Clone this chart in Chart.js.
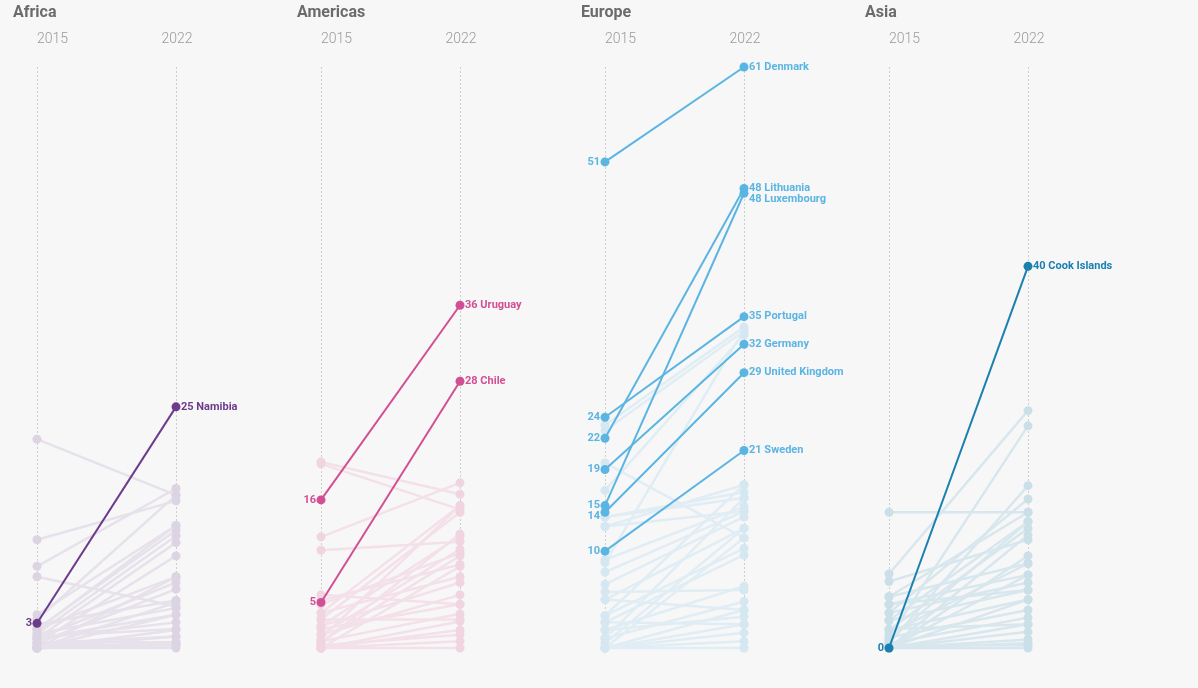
<!DOCTYPE html>
<html><head><meta charset="utf-8">
<script src="https://cdn.jsdelivr.net/npm/chart.js@4/dist/chart.umd.min.js"></script>
<style>
html,body{margin:0;padding:0;background:#f7f7f7;}
#wrap{position:relative;width:1198px;height:688px;overflow:hidden;background:#f7f7f7}
.panel{position:absolute;top:0;height:688px;}
canvas{display:block}
</style></head><body><div id="wrap"></div>
<script>
const years = ['2015', '2022'];
const regions = ['Africa', 'Americas', 'Europe', 'Asia'];

// Africa
const africaBg2015 = [22.0, 11.4, 8.6, 7.5, 3.5, 2.0, 1.5, 1.0, 0.5, 2.0, 1.0, 0.5, 0, 1.5, 0, 1.0, 0, 0.5, 0, 0, 0.3, 0, 1.2, 2.5, 0, 1.0, 0.6, 0, 3.0, 1.9];
const africaBg2022 = [16.1, 15.5, 16.8, 4.4, 12.9, 12.4, 11.8, 11.1, 9.7, 7.5, 6.9, 6.2, 4.8, 4.2, 3.5, 2.7, 1.9, 1.2, 0.6, 0, 0.3, 1.2, 2.0, 5.0, 7.5, 3.5, 0.6, 0.3, 16.1, 12.9];
const africaHiNames = ['Namibia'];
const africaHi2015 = [2.6];
const africaHi2022 = [25.4];

// Americas
const americasBg2015 = [19.6, 19.4, 11.7, 10.3, 5.6, 3.7, 3.0, 2.3, 1.4, 0.7, 0, 3.7, 2.3, 1.4, 0.7, 0, 0, 0.3, 0, 0, 5.0, 1.0, 3.0, 0.5, 2.0, 4.6];
const americasBg2022 = [16.2, 14.6, 17.4, 11.2, 4.6, 15.0, 14.3, 11.8, 10.4, 9.7, 8.6, 7.5, 6.9, 5.6, 3.6, 2.8, 1.9, 1.4, 0.7, 0, 8.8, 15.0, 3.0, 12.0, 4.6, 10.0];
const americasHiNames = ['Uruguay', 'Chile'];
const americasHi2015 = [15.6, 4.8];
const americasHi2022 = [36.1, 28.1];

// Europe
const europeBg2015 = [23.5, 22.9, 19.5, 16.6, 12.8, 13.8, 9.3, 8.0, 6.7, 5.9, 5.1, 3.4, 2.7, 1.9, 1.0, 0, 1.9, 2.7, 0, 0, 0, 1.0, 3.4, 0, 0.5, 9.0, 5.1, 12.8, 0, 13.8];
const europeBg2022 = [33.8, 33.4, 11.6, 33.0, 17.2, 15.8, 14.9, 14.4, 13.8, 6.1, 12.6, 10.5, 9.8, 6.5, 4.9, 4.0, 3.3, 2.5, 1.6, 0.7, 0, 15.8, 17.2, 11.6, 12.6, 33.5, 4.0, 14.4, 2.5, 16.4];
const europeHiNames = ['Denmark', 'Lithuania', 'Luxembourg', 'Portugal', 'Germany', 'United Kingdom', 'Sweden'];
const europeHi2015 = [51.2, 22.1, 15.0, 24.3, 18.8, 14.3, 10.2];
const europeHi2022 = [61.2, 48.4, 47.9, 34.9, 32.0, 29.0, 20.8];

// Asia
const asiaBg2015 = [14.3, 7.8, 7.0, 5.4, 4.6, 3.7, 2.9, 1.9, 1.1, 0.5, 0, 0, 3.7, 2.9, 1.9, 1.1, 0.5, 0, 0, 0, 0, 0.3, 5.4, 0, 1.5, 0, 2.0, 4.6, 0.8, 0];
const asiaBg2022 = [14.3, 25.0, 11.4, 8.9, 7.7, 15.7, 13.3, 12.6, 23.4, 17.1, 11.9, 9.7, 6.9, 6.1, 5.1, 4.0, 3.2, 2.5, 1.7, 0.9, 0, 0.3, 14.3, 7.7, 8.9, 5.1, 2.5, 6.1, 13.3, 0.5];
const asiaHiNames = ['Cook Islands'];
const asiaHi2015 = [0];
const asiaHi2022 = [40.2];

const palette = [
  {hi: '#6c3b8b', line: '#e6e1ea', point: '#dcd4e2'},
  {hi: '#d24f93', line: '#f4e0e9', point: '#f0d5e1'},
  {hi: '#5bb5e2', line: '#e0edf4', point: '#d5e7f0'},
  {hi: '#1b80b0', line: '#d8e7ee', point: '#cbdfe8'}
];

const FONT = 'Roboto, "Open Sans", sans-serif';
const PANEL_W = 284;
const wrap = document.getElementById('wrap');

function panelPlugin(title, col) {
  return {
    id: 'panelDeco',
    beforeDatasetsDraw(chart) {
      const ctx = chart.ctx;
      const xs = chart.scales.x, area = chart.chartArea;
      ctx.save();
      ctx.fillStyle = '#6b6b6b';
      ctx.font = 'bold 16px ' + FONT;
      ctx.textBaseline = 'middle';
      ctx.textAlign = 'left';
      ctx.fillText(title, 13, 13);
      ctx.font = '300 14px ' + FONT;
      ctx.fillStyle = '#9a9a9a';
      years.forEach((yr, i) => {
        const px = xs.getPixelForValue(i);
        ctx.textAlign = i === 0 ? 'left' : 'center';
        ctx.fillText(yr, i === 0 ? px : px + 1, 39);
        ctx.strokeStyle = '#cfcfcf';
        ctx.lineWidth = 1;
        ctx.setLineDash([2, 2]);
        ctx.beginPath();
        ctx.moveTo(Math.round(px) + 0.5, area.top);
        ctx.lineTo(Math.round(px) + 0.5, area.bottom + 4);
        ctx.stroke();
      });
      ctx.restore();
    },
    afterDatasetsDraw(chart) {
      const ctx = chart.ctx;
      ctx.save();
      ctx.font = 'bold 11px ' + FONT;
      ctx.fillStyle = col.hi;
      ctx.textBaseline = 'middle';
      const left = [], right = [];
      chart.data.datasets.forEach((ds, di) => {
        if (!ds.isHi) return;
        const pts = chart.getDatasetMeta(di).data;
        left.push({x: pts[0].x, y: pts[0].y, t: String(Math.round(ds.data[0]))});
        right.push({x: pts[1].x, y: pts[1].y, t: Math.round(ds.data[1]) + ' ' + ds.label});
      });
      [left, right].forEach((arr, side) => {
        arr.sort((a, b) => a.y - b.y);
        for (let k = 1; k < arr.length; k++) {
          if (arr[k].y - arr[k - 1].y < 11) arr[k].y = arr[k - 1].y + 11;
        }
        arr.forEach(l => {
          ctx.textAlign = side === 0 ? 'right' : 'left';
          ctx.fillText(l.t, side === 0 ? l.x - 5 : l.x + 5, l.y);
        });
      });
      ctx.restore();
    }
  };
}

function makePanel(i, bg2015, bg2022, hiNames, hi2015, hi2022) {
  const col = palette[i];
  const W = i === 3 ? 1198 - 3 * PANEL_W : PANEL_W;
  const div = document.createElement('div');
  div.className = 'panel';
  div.style.left = (i * PANEL_W) + 'px';
  div.style.width = W + 'px';
  const canvas = document.createElement('canvas');
  canvas.width = W; canvas.height = 688;
  canvas.style.width = W + 'px'; canvas.style.height = '688px';
  div.appendChild(canvas);
  wrap.appendChild(div);
  const datasets = [];
  hiNames.forEach((n, k) => datasets.push({
    label: n, isHi: true, data: [hi2015[k], hi2022[k]],
    borderColor: col.hi, backgroundColor: col.hi, pointBackgroundColor: col.hi,
    pointBorderWidth: 0, pointRadius: 4.5, borderWidth: 2, order: 0, clip: false
  }));
  bg2015.forEach((v, k) => datasets.push({
    label: '', isHi: false, data: [v, bg2022[k]],
    borderColor: col.line, backgroundColor: col.point, pointBackgroundColor: col.point,
    pointBorderWidth: 0, pointRadius: 4.5, borderWidth: 2.5, order: 1, clip: false
  }));
  new Chart(canvas, {
    type: 'line',
    data: {labels: years, datasets},
    options: {
      responsive: false, animation: false, events: [],
      layout: {padding: {top: 67, bottom: 40, left: 37, right: W - 176}},
      scales: {
        x: {display: false},
        y: {display: false, min: 0, max: 61.2}
      },
      plugins: {legend: {display: false}, tooltip: {enabled: false}}
    },
    plugins: [panelPlugin(regions[i], col)]
  });
}

makePanel(0, africaBg2015, africaBg2022, africaHiNames, africaHi2015, africaHi2022);
makePanel(1, americasBg2015, americasBg2022, americasHiNames, americasHi2015, americasHi2022);
makePanel(2, europeBg2015, europeBg2022, europeHiNames, europeHi2015, europeHi2022);
makePanel(3, asiaBg2015, asiaBg2022, asiaHiNames, asiaHi2015, asiaHi2022);
</script>
</body></html>
